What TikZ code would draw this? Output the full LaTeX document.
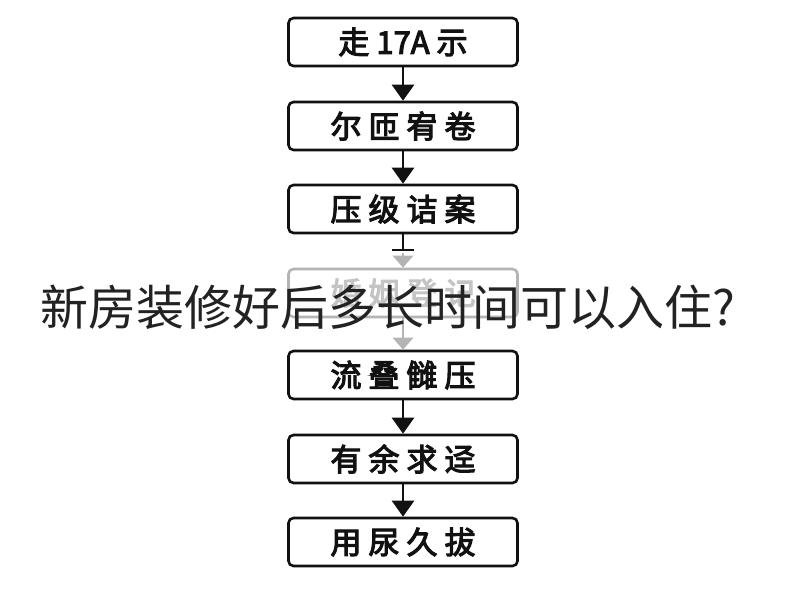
\documentclass[tikz,border=0pt]{standalone}
\usepackage{fontspec}
\newfontfamily\cjk{Noto Sans CJK SC}
\newfontfamily\boxf[FakeBold=3.5]{Noto Sans CJK SC}
\usetikzlibrary{arrows.meta}
\definecolor{ink}{HTML}{111111}
\definecolor{fade}{HTML}{B4B4B4}
\definecolor{fadetext}{HTML}{C4C4C4}
\definecolor{title}{HTML}{222222}
\tikzset{
  stepbox/.style={draw=ink, line width=2.6pt, rounded corners=5pt, minimum width=229pt, minimum height=48pt, font=\boxf\fontsize{31}{34}\selectfont, text=ink, inner sep=0pt},
  fadebox/.style={stepbox, draw=fade, text=fadetext},
  flow/.style={draw=ink, line width=2.6pt, -{Triangle[length=16pt,width=22pt]}},
  fadeflow/.style={draw=fade, line width=2.6pt, -{Triangle[length=12pt,width=20pt]}},
}
\newcommand{\gp}{\hspace{7pt}}
\begin{document}
\begin{tikzpicture}[x=1pt,y=-1pt]
\useasboundingbox[fill=white] (0,0) rectangle (800,600);
\node[stepbox] (b1) at (403,42) {走\gp 17A\gp 示};
\node[stepbox] (b2) at (403,126) {尔\gp 匝\gp 宥\gp 卷};
\node[stepbox] (b3) at (403,209) {压\gp 级\gp 诘\gp 案};
\node[fadebox] (b4) at (403,293) {婚\gp 姻\gp 登\gp 记};
\node[stepbox] (b5) at (403,375) {流\gp 叠\gp 雠\gp 压};
\node[stepbox] (b6) at (403,459) {有\gp 余\gp 求\gp 迳};
\node[stepbox] (b7) at (403,542) {用\gp 尿\gp 久\gp 拔};
\draw[flow] (b1) -- (b2);
\draw[flow] (b2) -- (b3);
\coordinate (bar) at (403,250);
\coordinate (barl) at (392,250);
\coordinate (barr) at (414,250);
\coordinate (fadestart) at (403,253);
\draw[draw=ink, line width=2.6pt] (b3.south) -- (bar);
\draw[draw=ink, line width=2.2pt] (barl) -- (barr);
\draw[fadeflow] (fadestart) -- (b4.north);
\draw[fadeflow] (b4) -- (b5);
\draw[flow] (b5) -- (b6);
\draw[flow] (b6) -- (b7);
\node[font=\cjk\fontsize{48}{51}\selectfont, text=title, inner sep=0pt] (t) at (388,307) {新房装修好后多长时间可以入住?};
\end{tikzpicture}
\end{document}
